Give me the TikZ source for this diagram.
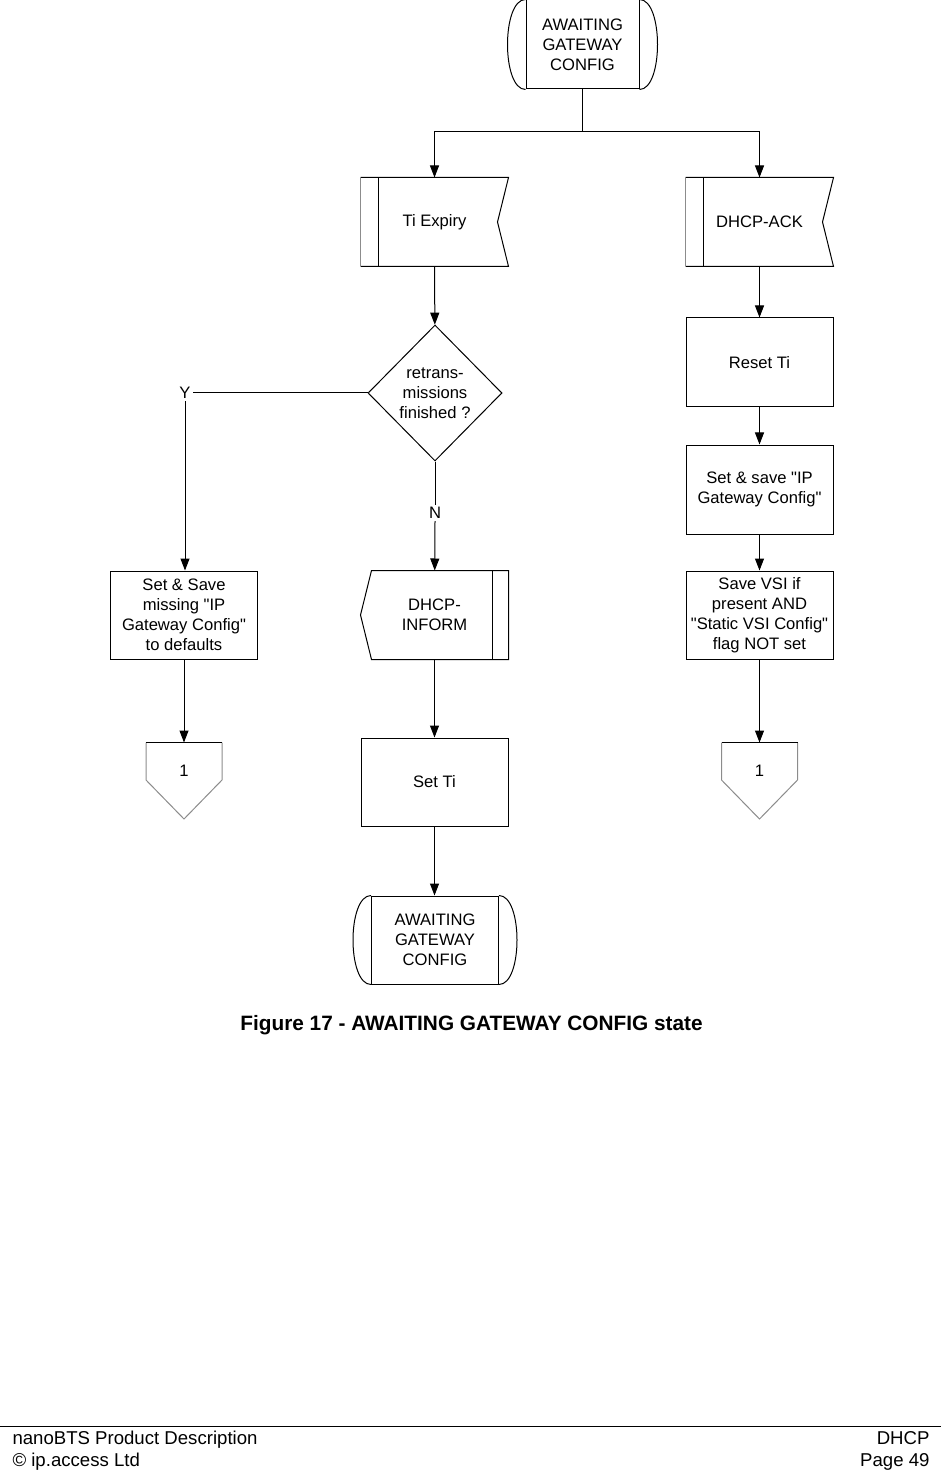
\documentclass[tikz,border=0pt]{standalone}
\usepackage{fontspec}
\setmainfont{Liberation Sans}
\newfontfamily\arialfont{Liberation Sans}
\usetikzlibrary{positioning,shapes.geometric,arrows.meta}
\definecolor{edgegray}{HTML}{8C8C8C}
\tikzset{
  txt/.style={font=\arialfont\fontsize{8.3}{10}\selectfont},
  proc/.style={txt, draw, line width=0.5pt, minimum width=73.5pt, minimum height=44.5pt, inner sep=1pt, align=center},
  sigbox/.style={proc, draw=none, minimum height=44pt},
  statebox/.style={proc, minimum width=56.5pt},
  decision/.style={txt, diamond, draw, line width=0.5pt, minimum width=67pt, minimum height=68pt, inner sep=0pt, align=center},
  joint/.style={txt, minimum width=37.5pt, minimum height=28pt, inner sep=0pt},
  lbl/.style={txt, inner sep=1pt},
  foot/.style={font=\arialfont\fontsize{9.3}{11}\selectfont, inner sep=0pt}
}

\begin{document}
\begin{tikzpicture}[x=0.5pt, y=-0.5pt, line width=0.5pt, >={Triangle[length=6pt,width=4.5pt]}]
  \useasboundingbox (0,0) rectangle (941,1470);
  % states
  \node[statebox] (top) at (582.5,44.5) {AWAITING\\GATEWAY\\CONFIG};
  \node[statebox, minimum width=63.5pt, minimum height=44pt] (last) at (435,940) {AWAITING\\GATEWAY\\CONFIG};
  \foreach \s in {top, last} {
    \draw (\s.north west) .. controls ([xshift=-12pt]\s.north west) and ([xshift=-12pt]\s.south west) .. (\s.south west);
    \draw (\s.north east) .. controls ([xshift=12pt]\s.north east) and ([xshift=12pt]\s.south east) .. (\s.south east);
  }
  % input signals
  \node[sigbox] (tiexp) at (434.5,222) {Ti Expiry};
  \node[sigbox] (dhcpack) at (759.5,222) {DHCP-ACK};
  \foreach \s in {tiexp, dhcpack} {
    \draw (\s.north west) -- (\s.north east) -- ([xshift=-5.5pt]\s.east) -- (\s.south east) -- (\s.south west);
    \draw[edgegray] (\s.south west) -- (\s.north west);
    \draw ([xshift=9pt]\s.north west) -- ([xshift=9pt]\s.south west);
  }
  % output signal
  \node[sigbox] (inform) at (434.5,615) {DHCP-\\INFORM};
  \draw ([xshift=5.5pt]inform.north west) -- (inform.north east) -- (inform.south east) -- ([xshift=5.5pt]inform.south west) -- (inform.west) -- cycle;
  \draw ([xshift=-8pt]inform.north east) -- ([xshift=-8pt]inform.south east);
  % tasks
  \node[decision] (retr) at (435,393) {retrans-\\missions\\finished ?};
  \node[proc] (resetti) at (759.5,362.5) {Reset Ti};
  \node[proc] (setsave) at (759.5,489.5) {Set \& save "IP\\Gateway Config"};
  \node[proc, minimum height=44pt] (savevsi) at (759.5,615) {Save VSI if\\present  AND\\"Static VSI Config"\\flag NOT set};
  \node[proc, minimum height=44pt] (setdef) at (184,615) {Set \& Save\\missing  "IP\\Gateway Config"\\to defaults};
  \node[proc, minimum height=44pt] (setti) at (434.5,782) {Set Ti};
  % connectors
  \node[joint] (endl) at (184,771) {1};
  \node[joint] (endr) at (759.5,771) {1};
  \foreach \c in {endl, endr} {
    \draw[edgegray] (\c.north west) -- ([yshift=-4.5pt]\c.west) -- ([yshift=-24pt]\c.center) -- ([yshift=-4.5pt]\c.east) -- (\c.north east);
    \draw (\c.north west) -- (\c.north east);
  }
  \node[lbl] (yes) at (185,393) {Y};
  \node[lbl] (no) at (435,513) {N};
  \coordinate (fork) at (582.5,132);
  % flow
  \draw (top) -- (fork);
  \draw[->] (fork) -| (tiexp);
  \draw[->] (fork) -| (dhcpack);
  \draw[->] (tiexp) -- (retr);
  \draw (retr.west) -- (yes.east);
  \draw[->] (yes.south) -- (yes.south |- setdef.north);
  \draw (retr.south) -- (no.north);
  \draw[->] (no.south) -- (inform);
  \draw[->] (inform) -- (setti);
  \draw[->] (setti) -- (setti |- last.north);
  \draw[->] (setdef) -- (endl.north);
  \draw[->] (dhcpack) -- (resetti);
  \draw[->] (resetti) -- (setsave);
  \draw[->] (setsave) -- (savevsi);
  \draw[->] (savevsi) -- (endr.north);
  % caption and page footer
  \node[font=\arialfont\fontsize{10.4}{12}\selectfont\bfseries] (caption) at (471.5,1025) {Figure 17 - AWAITING GATEWAY CONFIG state};
  \draw (0,1426) -- (941,1426);
  \node[foot, anchor=base west] (doc) at (12,1444) {nanoBTS Product Description};
  \node[foot, anchor=base west] (copy) at (12,1466) {© ip.access Ltd};
  \node[foot, anchor=base east] (chap) at (930,1444) {DHCP};
  \node[foot, anchor=base east] (page) at (930,1466) {Page 49};
\end{tikzpicture}
\end{document}
